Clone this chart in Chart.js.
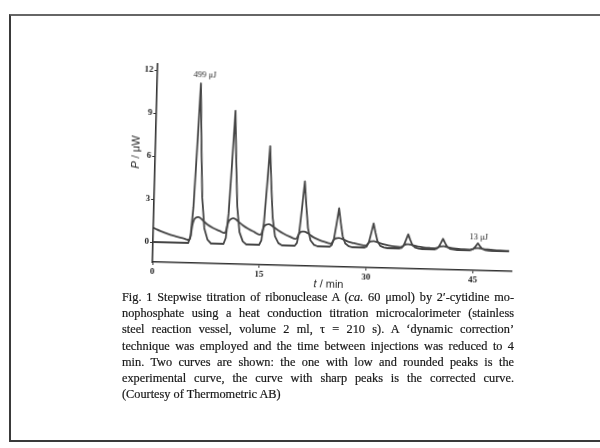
<!DOCTYPE html>
<html>
<head>
<meta charset="utf-8">
<script src="https://cdn.jsdelivr.net/npm/chart.js@4"></script>
<style>
html,body{margin:0;padding:0;background:#fff;width:600px;height:448px;overflow:hidden;position:relative;}
#frame{position:absolute;left:9px;top:14px;width:600px;height:428px;border-left:2px solid #3a3a3a;border-top:2px solid #666;border-bottom:2px solid #3a3a3a;box-sizing:border-box;}
#wrap{position:absolute;left:0;top:0;width:600px;height:300px;transform:rotate(1.5deg);transform-origin:153px 242px;}
#cap{position:absolute;left:122px;top:289px;width:392px;font-family:'Liberation Serif','Times New Roman',serif;font-size:12.3px;line-height:16.2px;color:#151515;-webkit-text-stroke:0.2px #222;}
#cap div{text-align:justify;text-align-last:justify;white-space:nowrap;}
#cap div.last{text-align-last:left;}
</style>
</head>
<body>
<div id="frame"></div>
<div id="wrap"><canvas id="c" width="600" height="300"></canvas></div>
<div id="cap">
<div>Fig. 1 Stepwise titration of ribonuclease A (<i>ca.</i> 60 μmol) by 2′-cytidine mo-</div>
<div>nophosphate using a heat conduction titration microcalorimeter (stainless</div>
<div>steel reaction vessel, volume 2 ml, τ = 210 s). A ‘dynamic correction’</div>
<div>technique was employed and the time between injections was reduced to 4</div>
<div>min. Two curves are shown: the one with low and rounded peaks is the</div>
<div>experimental curve, the curve with sharp peaks is the corrected curve.</div>
<div class="last">(Courtesy of Thermometric AB)</div>
</div>
<script>
// ---- data (t in min, P in μW) ----
const xTicks = [0, 15, 30, 45];
const yTicks = [0, 3, 6, 9, 12];

// corrected curve (sharp peaks)
const corrTimes = [0, 4.95, 5.25, 5.55, 5.85, 6.15, 6.45, 6.75, 7.15, 7.65, 8.15,
  9.9, 10.2, 10.5, 10.8, 11.1, 11.4, 11.7, 12.1, 12.6, 13.1,
  14.9, 15.2, 15.5, 15.8, 16.1, 16.4, 16.7, 17.1, 17.6, 18.1,
  19.9, 20.2, 20.5, 20.8, 21.1, 21.4, 21.7, 22.1, 22.6, 23.1,
  24.8, 25.1, 25.4, 25.7, 26.0, 26.3, 26.6, 27.0, 27.5, 28.0,
  29.7, 30.0, 30.3, 30.6, 30.9, 31.2, 31.5, 31.9, 32.4, 32.9,
  34.6, 34.9, 35.2, 35.5, 35.8, 36.1, 36.4, 36.8, 37.3, 37.8,
  39.5, 39.8, 40.1, 40.4, 40.7, 41.0, 41.3, 41.7, 42.2, 42.7,
  44.4, 44.7, 45.0, 45.3, 45.6, 45.9, 46.2, 46.6, 47.1, 47.6, 50.0];
const corrValues = [0, 0, 0.5, 2.5, 6.6, 11.15, 6.8, 3.2, 1.05, 0.25, 0,
  0, 0.42, 2.1, 5.5, 9.3, 5.7, 2.6, 0.85, 0.2, 0,
  0, 0.3, 1.55, 4.1, 6.9, 4.2, 1.95, 0.62, 0.15, 0,
  0, 0.2, 1.0, 2.7, 4.5, 2.75, 1.25, 0.4, 0.1, 0,
  0, 0.12, 0.6, 1.6, 2.7, 1.65, 0.75, 0.24, 0.06, 0,
  0, 0.08, 0.38, 1.02, 1.7, 1.05, 0.47, 0.15, 0.04, 0,
  0, 0.05, 0.22, 0.6, 1.0, 0.62, 0.28, 0.09, 0.02, 0,
  0, 0.04, 0.17, 0.45, 0.75, 0.46, 0.21, 0.07, 0.02, 0,
  0, 0.03, 0.11, 0.3, 0.5, 0.31, 0.14, 0.05, 0.01, 0, 0];

// experimental curve (low, rounded peaks)
const expTimes = [0, 0.5, 1, 2, 3, 4, 4.6, 5.05, 5.25, 5.45, 5.65, 5.95, 6.25, 6.55, 6.95, 7.55, 8.4, 9.3, 10.0,
  10.2, 10.4, 10.6, 10.9, 11.2, 11.5, 11.9, 12.5, 13.3, 14.2, 15.0,
  15.2, 15.4, 15.6, 15.9, 16.2, 16.5, 16.9, 17.5, 18.3, 19.2, 20.0,
  20.2, 20.4, 20.6, 20.9, 21.2, 21.5, 21.9, 22.5, 23.3, 24.1, 24.9,
  25.1, 25.3, 25.5, 25.8, 26.1, 26.4, 26.8, 27.4, 28.2, 29.0, 29.8,
  30.0, 30.2, 30.4, 30.7, 31.0, 31.3, 31.7, 32.3, 33.1, 33.9, 34.7,
  35.1, 35.3, 35.6, 35.9, 36.2, 36.6, 37.2, 38.0, 38.8, 39.6,
  40.0, 40.2, 40.5, 40.8, 41.1, 41.5, 42.1, 42.9, 43.7, 44.5,
  44.9, 45.1, 45.4, 45.7, 46.0, 46.4, 47.0, 47.8, 48.8, 50.0];
const expValues = [1.0, 0.88, 0.78, 0.6, 0.46, 0.34, 0.26, 0.2, 0.45, 1.2, 1.6, 1.78, 1.82, 1.76, 1.58, 1.32, 1.08, 0.9, 0.76,
  0.9, 1.35, 1.62, 1.76, 1.8, 1.74, 1.58, 1.35, 1.1, 0.88, 0.7,
  0.8, 1.1, 1.32, 1.43, 1.46, 1.4, 1.25, 1.05, 0.82, 0.62, 0.48,
  0.55, 0.78, 0.92, 1.0, 1.0, 0.95, 0.82, 0.62, 0.45, 0.32, 0.22,
  0.26, 0.42, 0.55, 0.6, 0.62, 0.58, 0.5, 0.38, 0.28, 0.2, 0.15,
  0.18, 0.3, 0.4, 0.45, 0.46, 0.43, 0.36, 0.27, 0.19, 0.13, 0.1,
  0.18, 0.26, 0.3, 0.31, 0.28, 0.23, 0.17, 0.12, 0.09, 0.07,
  0.13, 0.19, 0.22, 0.23, 0.21, 0.17, 0.12, 0.08, 0.06, 0.05,
  0.1, 0.14, 0.16, 0.17, 0.15, 0.12, 0.09, 0.06, 0.04, 0.03];

// peak annotations (anchored in data units)
const annLabels = ['499 μJ', '13 μJ'];
const annT = [6.7, 45.7];
const annP = [11.75, 0.92];

// ---- chart ----
const lineCol = '#454545';
function pts(ts, vs){ return ts.map((t,i)=>({x:t, y:vs[i]})); }

function drawMixed(ctx, parts, cx, cy){
  let w = 0;
  parts.forEach(p=>{ ctx.font = p[1]; w += ctx.measureText(p[0]).width; });
  let x = cx - w/2;
  ctx.textAlign = 'left'; ctx.textBaseline = 'middle';
  parts.forEach(p=>{ ctx.font = p[1]; ctx.fillText(p[0], x, cy); x += ctx.measureText(p[0]).width; });
}

const textPlugin = {
  id: 'texts',
  afterDraw(chart){
    const ctx = chart.ctx, xs = chart.scales.x, ys = chart.scales.y, ca = chart.chartArea;
    ctx.save();
    ctx.fillStyle = '#262626';
    ctx.font = '8.5px "Liberation Serif"';
    ctx.textAlign = 'center'; ctx.textBaseline = 'middle';
    annLabels.forEach((s,i)=>ctx.fillText(s, xs.getPixelForValue(annT[i]), ys.getPixelForValue(annP[i])));
    // x axis title
    drawMixed(ctx, [['t', 'italic 11px "Liberation Sans"'], [' / min', '11px "Liberation Sans"']],
      (ca.left + ca.right)/2 - 3, ca.bottom + 17.5);
    // y axis title
    ctx.translate(ca.left - 19, 152.5);
    ctx.rotate(-Math.PI/2);
    drawMixed(ctx, [['P', 'italic 11px "Liberation Sans"'], [' / μW', '11px "Liberation Sans"']], 0, 0);
    ctx.restore();
  }
};

new Chart(document.getElementById('c'), {
  type: 'line',
  data: {
    datasets: [
      { label: 'corrected', data: pts(corrTimes, corrValues), borderColor: lineCol, borderWidth: 1.8,
        pointRadius: 0, tension: 0, fill: false, borderJoinStyle: 'round' },
      { label: 'experimental', data: pts(expTimes, expValues), borderColor: lineCol, borderWidth: 1.8,
        pointRadius: 0, cubicInterpolationMode: 'monotone', fill: false }
    ]
  },
  options: {
    responsive: false,
    animation: false,
    devicePixelRatio: 1,
    layout: { padding: { left: 103, right: 88, top: 64, bottom: 0 } },
    plugins: { legend: { display: false }, tooltip: { enabled: false } },
    scales: {
      x: {
        type: 'linear', min: 0, max: 50.4,
        afterBuildTicks: s => { s.ticks = xTicks.map(v => ({ value: v })); },
        afterFit: s => { s.height = 38; },
        grid: { display: true, drawOnChartArea: false, drawTicks: true, tickLength: 3, color: '#333' },
        border: { display: true, color: '#333', width: 1.6 },
        ticks: { color: '#222', padding: 1, font: { family: 'Liberation Serif', size: 9, weight: 'bold' } }
      },
      y: {
        type: 'linear', min: -1.395, max: 12.42,
        afterBuildTicks: s => { s.ticks = yTicks.map(v => ({ value: v })); },
        afterFit: s => { s.width = 50; },
        grid: { display: true, drawOnChartArea: false, drawTicks: true, tickLength: 3, color: '#333' },
        border: { display: true, color: '#333', width: 1.6 },
        ticks: { color: '#222', padding: 1, font: { family: 'Liberation Serif', size: 9, weight: 'bold' } }
      }
    }
  },
  plugins: [textPlugin]
});
</script>
</body>
</html>
